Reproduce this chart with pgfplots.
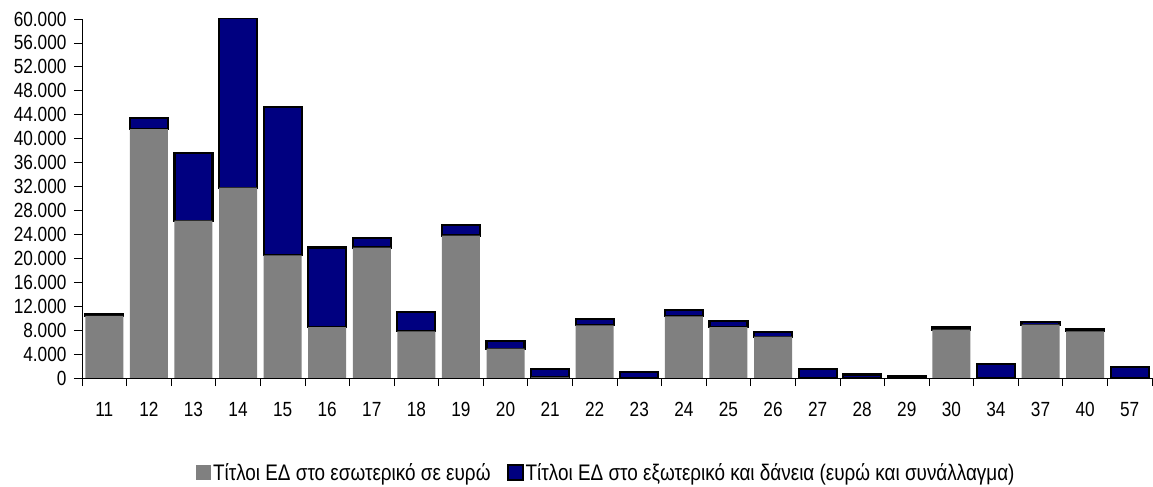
\documentclass[border=0pt]{standalone}
\usepackage{fontspec}
\setmainfont{Liberation Sans}[FakeStretch=0.84]
\usepackage{pgfplots}
\usepackage{pgfplotstable}
\pgfplotsset{compat=1.18}
\definecolor{eg}{HTML}{808080}
\definecolor{nv}{HTML}{000080}
\pgfplotstableread{
x lab dom ext
0 11 10400 250
1 12 41600 1800
2 13 26300 11300
3 14 31800 28400
4 15 20500 24800
5 16 8500 13300
6 17 21800 1600
7 18 7800 3200
8 19 23800 1800
9 20 4900 1300
10 21 100 1400
11 22 8800 1100
12 23 0 1050
13 24 10300 1000
14 25 8500 1000
15 26 6900 850
16 27 0 1550
17 28 0 600
18 29 0 400
19 30 8100 450
20 34 0 2350
21 37 8900 450
22 40 7800 300
23 57 0 1800
}\data
\begin{document}
\begin{tikzpicture}
\path[use as bounding box] (0,0) rectangle (1153bp,487bp);
\begin{axis}[
  at={(82bp,109bp)}, anchor=south west,
  scale only axis, width=1070bp, height=359bp,
  xmin=-0.5, xmax=23.5, ymin=0, ymax=60000,
  ybar stacked, bar width=38bp,
  axis x line*=bottom, axis y line*=left,
  axis line style={black, line width=1bp},
  ytick={0,4000,...,60000},
  scaled y ticks=false,
  yticklabel style={xshift=-4bp, /pgf/number format/fixed, /pgf/number format/1000 sep={.}},
  /pgf/number format/assume math mode=true,
  xtick={0,...,23},
  xticklabels from table={\data}{lab},
  minor xtick={-0.5,0.5,...,23.5},
  major x tick style={draw=none},
  tick align=outside,
  major tick length=8bp, minor tick length=8bp,
  tick style={black, line width=0.8bp},
  tick label style={font=\fontsize{20.5bp}{24bp}\selectfont},
  xticklabel style={yshift=-13bp},
  legend style={at={(0.490,-0.264)}, anchor=center, draw=none, fill=none,
    inner sep=0pt,
    font=\fontsize{22.5bp}{25bp}\selectfont,
    /tikz/every even column/.append style={column sep=14bp}},
  legend columns=2,
  legend image code/.code={\path[#1] (0bp,-7bp) rectangle (15bp,8bp);},
]
\addplot[fill=eg, draw=none] table[x=x, y=dom] {\data};
\addplot[fill=nv, draw=black, line width=2.2bp] table[x=x, y=ext] {\data};
\legend{Τίτλοι ΕΔ στο εσωτερικό σε ευρώ, Τίτλοι ΕΔ στο εξωτερικό και δάνεια (ευρώ και συνάλλαγμα)}
\end{axis}
\end{tikzpicture}
\end{document}
